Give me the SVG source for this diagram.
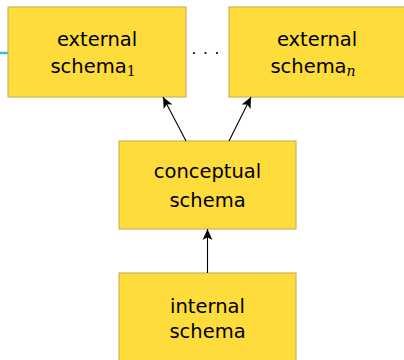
<svg xmlns="http://www.w3.org/2000/svg" width="404" height="360" viewBox="0 0 404 360">
<defs>
<style>
.box{fill:#fddc3c;stroke:#cbb55c;stroke-width:1.2}
.t{font-family:"DejaVu Sans","Liberation Sans",sans-serif;font-size:19.5px;fill:#000;text-anchor:middle}
.sub{font-family:"DejaVu Serif","Liberation Serif",serif;font-size:14px;fill:#000}
.e{stroke:#000;stroke-width:1.1;fill:none;marker-end:url(#ah)}
</style>
<marker id="ah" viewBox="0 0 10 10" refX="10" refY="5" markerWidth="11" markerHeight="11" markerUnits="userSpaceOnUse" orient="auto">
<path d="M0,0.5 L10,5 L0,9.5 L2.5,5 Z" fill="#000"/>
</marker>
</defs>
<rect width="404" height="360" fill="#fff"/>
<line x1="0" y1="53" x2="8" y2="53" stroke="#3fbcd6" stroke-width="2.5"/>
<g id="ext1">
<rect class="box" x="8" y="7" width="178" height="90"/>
<text class="t" x="97" y="46">external</text>
<text class="t" x="93" y="73">schema<tspan class="sub" dy="3">1</tspan></text>
</g>
<g id="dots" fill="#000">
<circle cx="194" cy="53" r="1.1"/>
<circle cx="205.5" cy="53" r="1.1"/>
<circle cx="217" cy="53" r="1.1"/>
</g>
<g id="extn">
<rect class="box" x="229" y="7" width="178" height="90"/>
<text class="t" x="317" y="46">external</text>
<text class="t" x="313" y="73">schema<tspan class="sub" font-style="italic" dy="3">n</tspan></text>
</g>
<g id="conceptual">
<rect class="box" x="119" y="141" width="177" height="88"/>
<text class="t" x="207.5" y="178">conceptual</text>
<text class="t" x="207.5" y="207">schema</text>
</g>
<g id="internal">
<rect class="box" x="119" y="273" width="177" height="90"/>
<text class="t" x="207.5" y="313">internal</text>
<text class="t" x="207.5" y="338">schema</text>
</g>
<g id="connectors">
<line class="e" x1="186" y1="141" x2="163" y2="97"/>
<line class="e" x1="229" y1="141" x2="251" y2="97"/>
<line class="e" x1="207.5" y1="273" x2="207.5" y2="229"/>
</g>
</svg>
